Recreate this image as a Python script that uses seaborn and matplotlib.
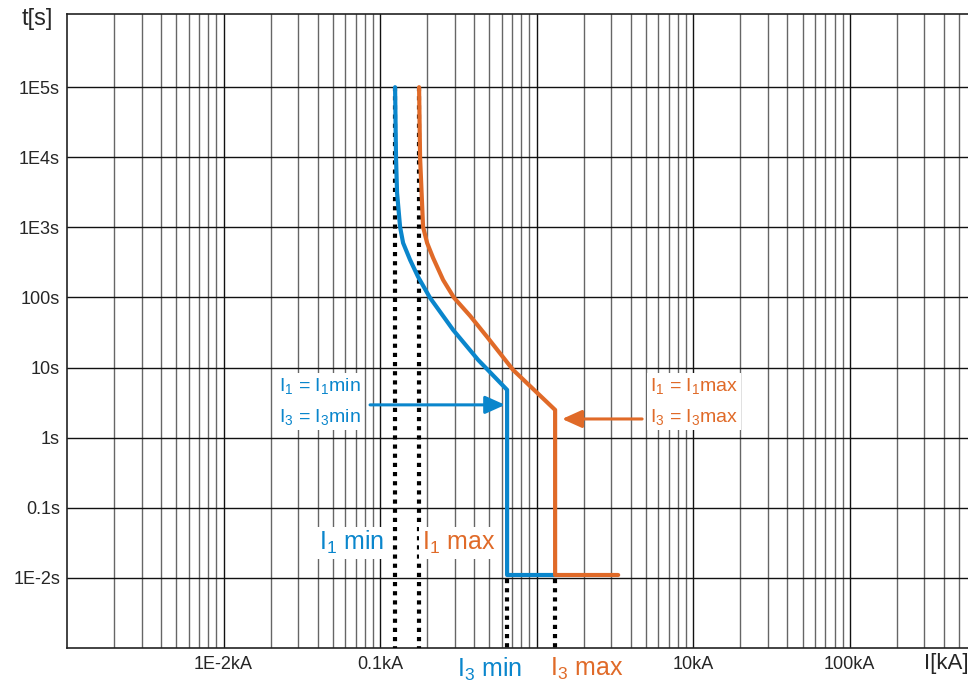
import numpy as np
import pandas as pd
import seaborn as sns
import matplotlib.pyplot as plt
from matplotlib.ticker import LogLocator, FixedLocator, NullFormatter
import matplotlib.transforms as mtransforms

# values (I in kA, t in s)
min_curve_i = [0.1247, 0.1264, 0.1284, 0.1342, 0.1372, 0.1403, 0.1555, 0.1749, 0.2087,
               0.2928, 0.4228, 0.6478, 0.6478, 1.313]
min_curve_t = [1e5, 1e4, 3105, 1016, 782, 601, 344, 197, 98.7, 34.5, 12.9, 4.81, 0.011, 0.011]

max_curve_i = [0.1775, 0.1801, 0.1882, 0.1997, 0.2182, 0.2528, 0.2972, 0.376,
               0.4828, 0.7075, 1.313, 1.313, 3.32]
max_curve_t = [1e5, 1e4, 1016, 601, 367, 178, 98.7, 54.7, 27.4, 9.27, 2.49, 0.011, 0.011]

i1_min, i1_max = 0.1247, 0.1775
i3_min, i3_max = 0.6478, 1.313

x_ticks = [1e-2, 1e-1, 1, 10, 100]
x_labels = ["1E-2kA", "0.1kA", "", "10kA", "100kA"]
y_ticks = [1e-2, 1e-1, 1, 10, 100, 1e3, 1e4, 1e5]
y_labels = ["1E-2s", "0.1s", "1s", "10s", "100s", "1E3s", "1E4s", "1E5s"]

blue = "#0a86cc"
orange = "#e06a28"

sns.set_style("white")
plt.rcParams["font.family"] = ["Liberation Sans", "DejaVu Sans"]
plt.rcParams["mathtext.default"] = "regular"

fig = plt.figure(figsize=(9.68, 6.83), dpi=100)
ax = fig.add_axes([67 / 968, 35 / 683, 901 / 968, 634 / 683])
ax.set_xscale("log")
ax.set_yscale("log")
ax.set_xlim(1e-3, 570)
ax.set_ylim(1e-3, 1.107e6)

# grid: decades on both axes, 2..9 subdivisions on the current axis only
ax.xaxis.set_major_locator(FixedLocator(x_ticks))
ax.xaxis.set_minor_locator(LogLocator(base=10, subs=np.arange(2, 10), numticks=20))
ax.xaxis.set_minor_formatter(NullFormatter())
ax.yaxis.set_major_locator(FixedLocator(y_ticks))
ax.yaxis.set_minor_locator(FixedLocator([]))
ax.set_xticklabels(x_labels)
ax.set_yticklabels(y_labels)
ax.grid(which="major", axis="both", color="#111111", linewidth=1.0)
ax.grid(which="minor", axis="x", color="#666666", linewidth=1.0)
ax.tick_params(which="both", length=0, labelsize=13)
ax.tick_params(axis="x", pad=6)
ax.tick_params(axis="y", pad=5)
for s in ["left", "bottom", "top"]:
    ax.spines[s].set_color("#222222")
    ax.spines[s].set_linewidth(1.2)
ax.spines["right"].set_visible(False)
ax.set_axisbelow(True)

# dotted reference lines
dot = dict(color="black", linewidth=3, linestyle=(0, (1, 1.2)), zorder=3)
ax.plot([i1_min, i1_min], [1e5, 1e-3], **dot)
ax.plot([i1_max, i1_max], [1e5, 1e-3], **dot)
ax.plot([i3_min, i3_min], [0.0095, 1e-3], **dot)
ax.plot([i3_max, i3_max], [0.0095, 1e-3], **dot)

# trip curves
min_df = pd.DataFrame({"I": min_curve_i, "t": min_curve_t})
max_df = pd.DataFrame({"I": max_curve_i, "t": max_curve_t})
sns.lineplot(data=min_df, x="I", y="t", sort=False, estimator=None, color=blue,
             linewidth=3, ax=ax, zorder=4)
sns.lineplot(data=max_df, x="I", y="t", sort=False, estimator=None, color=orange,
             linewidth=3, ax=ax, zorder=5)
ax.set_xlabel("")
ax.set_ylabel("")

box = dict(facecolor="white", edgecolor="none", pad=2)
arrow = "-|>,head_length=0.6,head_width=0.27"

# annotations with arrows
ax.text(0.0225, 3.3, "I$_1$ = I$_1$min\nI$_3$ = I$_3$min", color=blue, fontsize=14,
        ha="left", va="center", linespacing=1.75, bbox=box, zorder=3.5)
ax.annotate("", xy=(0.629, 2.94), xytext=(0.0863, 2.94),
            arrowprops=dict(arrowstyle=arrow, mutation_scale=20, color=blue, lw=2.2,
                            shrinkA=0, shrinkB=0), zorder=6)
ax.text(5.31, 3.3, "I$_1$ = I$_1$max\nI$_3$ = I$_3$max", color=orange, fontsize=14,
        ha="left", va="center", linespacing=1.75, bbox=box, zorder=3.5)
ax.annotate("", xy=(1.455, 1.85), xytext=(4.72, 1.85),
            arrowprops=dict(arrowstyle=arrow, mutation_scale=20, color=orange, lw=2.2,
                            shrinkA=0, shrinkB=0), zorder=6)

ax.text(0.1065, 0.0316, "I$_1$ min", color=blue, fontsize=18, ha="right",
        va="center", bbox=box, zorder=3.5)
ax.text(0.184, 0.0316, "I$_1$ max", color=orange, fontsize=18, ha="left",
        va="center", bbox=box, zorder=3.5)

trans = mtransforms.blended_transform_factory(ax.transData, ax.transAxes)
ax.text(0.505, -0.0335, "I$_3$ min", color=blue, fontsize=18, ha="center",
        va="center", transform=trans, clip_on=False)
ax.text(2.10, -0.0335, "I$_3$ max", color=orange, fontsize=18, ha="center",
        va="center", transform=trans, clip_on=False)

fig.text(37 / 968, 1 - 19 / 683, "t[s]", fontsize=17, ha="center", va="center")
fig.text(924 / 968, 1 - 664 / 683, "I[kA]", fontsize=16, ha="left", va="center")

fig.savefig("out.png", dpi=100)
